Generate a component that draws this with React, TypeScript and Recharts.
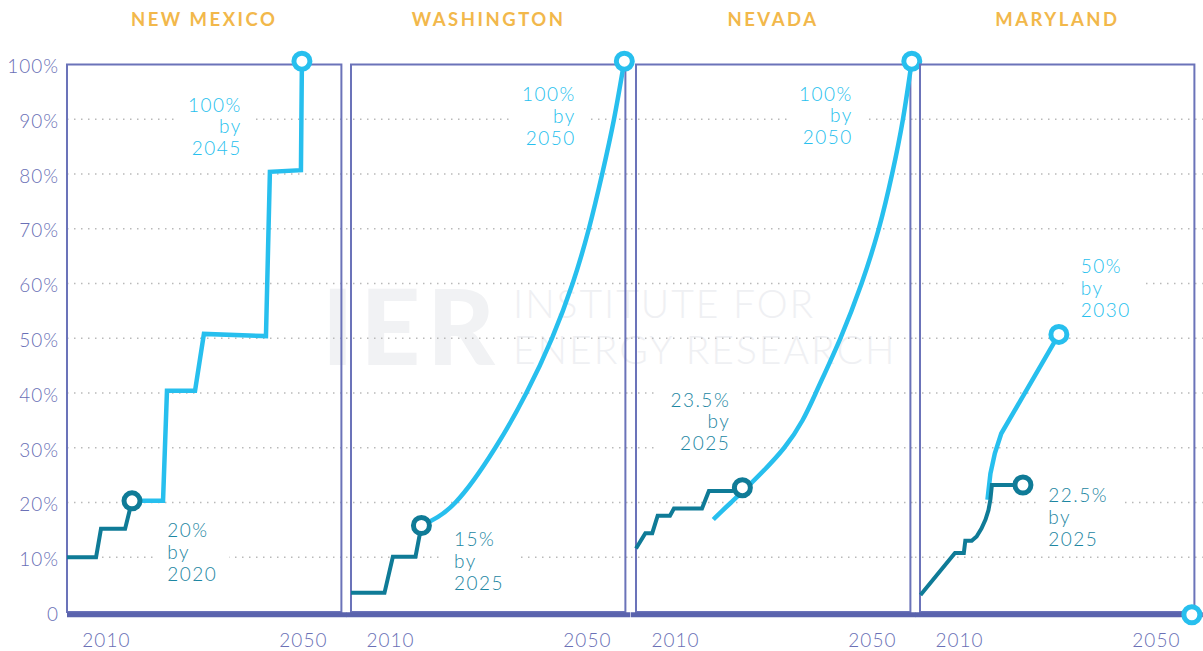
import React from 'react';
import {
  LineChart,
  Line,
  XAxis,
  YAxis,
  CartesianGrid,
  ReferenceArea,
  ReferenceLine,
} from 'recharts';

type Pt = { year: number; pct: number };

const states = ['NEW MEXICO', 'WASHINGTON', 'NEVADA', 'MARYLAND'];
const yTicks = [0, 10, 20, 30, 40, 50, 60, 70, 80, 90, 100];
const gridValues = [10, 20, 30, 40, 50, 60, 70, 80, 90];
const xTicks = [2010, 2050];

// current law (dark) and target path (light)
const nmCurrent: Pt[] = [
  { year: 2002, pct: 10.0 },
  { year: 2007.9, pct: 10.0 },
  { year: 2008.9, pct: 15.2 },
  { year: 2013.8, pct: 15.2 },
  { year: 2015.2, pct: 20.3 },
];
const nmTarget: Pt[] = [
  { year: 2015.2, pct: 20.3 },
  { year: 2021.5, pct: 20.3 },
  { year: 2022.3, pct: 40.4 },
  { year: 2028.0, pct: 40.4 },
  { year: 2029.8, pct: 50.8 },
  { year: 2042.4, pct: 50.4 },
  { year: 2043.2, pct: 80.4 },
  { year: 2049.5, pct: 80.7 },
  { year: 2049.7, pct: 100.6 },
];

const waCurrent: Pt[] = [
  { year: 2002, pct: 3.5 },
  { year: 2008.8, pct: 3.5 },
  { year: 2010.5, pct: 10.1 },
  { year: 2015.1, pct: 10.1 },
  { year: 2016.3, pct: 15.8 },
];
const waTarget: Pt[] = [
  { year: 2016.3, pct: 15.8 },
  { year: 2023.2, pct: 20 },
  { year: 2031.3, pct: 30 },
  { year: 2037.6, pct: 40 },
  { year: 2042.8, pct: 50 },
  { year: 2047.0, pct: 60 },
  { year: 2050.3, pct: 70 },
  { year: 2053.0, pct: 80 },
  { year: 2055.4, pct: 90 },
  { year: 2057.5, pct: 100.6 },
];

const nvCurrent: Pt[] = [
  { year: 2002, pct: 11.6 },
  { year: 2003.9, pct: 14.4 },
  { year: 2005.3, pct: 14.4 },
  { year: 2006.4, pct: 17.6 },
  { year: 2008.9, pct: 17.6 },
  { year: 2009.7, pct: 18.9 },
  { year: 2015.4, pct: 18.9 },
  { year: 2016.8, pct: 22.1 },
  { year: 2021.5, pct: 22.1 },
  { year: 2023.6, pct: 22.7 },
];
const nvTarget: Pt[] = [
  { year: 2017.7, pct: 16.9 },
  { year: 2021.3, pct: 20 },
  { year: 2032.1, pct: 30 },
  { year: 2038.5, pct: 40 },
  { year: 2043.5, pct: 50 },
  { year: 2047.8, pct: 60 },
  { year: 2051.3, pct: 70 },
  { year: 2054.0, pct: 80 },
  { year: 2056.2, pct: 90 },
  { year: 2058.0, pct: 100.6 },
];

const mdCurrent: Pt[] = [
  { year: 2002.1, pct: 3.1 },
  { year: 2009.1, pct: 10.8 },
  { year: 2010.9, pct: 10.8 },
  { year: 2011.2, pct: 13.0 },
  { year: 2012.5, pct: 13.0 },
  { year: 2013.5, pct: 13.8 },
  { year: 2014.5, pct: 15.3 },
  { year: 2015.3, pct: 16.9 },
  { year: 2015.9, pct: 18.6 },
  { year: 2016.3, pct: 20.6 },
  { year: 2016.6, pct: 23.2 },
  { year: 2022.9, pct: 23.2 },
];
const mdTarget: Pt[] = [
  { year: 2015.7, pct: 20.5 },
  { year: 2016.3, pct: 25.3 },
  { year: 2017.2, pct: 29.0 },
  { year: 2018.5, pct: 32.6 },
  { year: 2030.2, pct: 50.7 },
];
const mdExtraMarker: Pt[] = [{ year: 2057.2, pct: -0.5 }];

const nmLabels = { target: ['100%', 'by', '2045'], current: ['20%', 'by', '2020'] };
const waLabels = { target: ['100%', 'by', '2050'], current: ['15%', 'by', '2025'] };
const nvLabels = { target: ['100%', 'by', '2050'], current: ['23.5%', 'by', '2025'] };
const mdLabels = { target: ['50%', 'by', '2030'], current: ['22.5%', 'by', '2025'] };

// layout
const W = 1203;
const H = 651;
const PX_PER_YEAR = 4.925;
const BOX_START = 2002;
const BOX_W = 274.4;
const PANEL_STEP = 284.4;
const FIRST_BOX_LEFT = 67;
const GAP_HALF = 5;
const PLOT_TOP = 53.55;
const PLOT_BOTTOM = 617.5;
const Y_DOMAIN = [-1, 102];

const LIGHT = '#27bfee';
const DARK = '#0f7b97';
const DARK_TEXT = '#1c86a2';
const AXIS_TEXT = '#6a70b6';
const BOX = '#6b73b9';
const BASE = '#5a63ad';
const FONT = 'Lato, "Open Sans", sans-serif';

type PanelProps = {
  index: number;
  current: Pt[];
  target: Pt[];
  curve: 'linear' | 'natural';
  extra?: Pt[];
};

function Panel({ index, current, target, curve, extra = [] }: PanelProps) {
  const boxLeft = FIRST_BOX_LEFT + index * PANEL_STEP;
  const isFirst = index === 0;
  const isLast = index === states.length - 1;
  const plotLeft = isFirst ? boxLeft : boxLeft - GAP_HALF;
  const plotRight = isLast ? W : boxLeft + PANEL_STEP - GAP_HALF;
  const chartLeft = isFirst ? 0 : plotLeft;
  const domain = [
    BOX_START - (boxLeft - plotLeft) / PX_PER_YEAR,
    BOX_START + (plotRight - boxLeft) / PX_PER_YEAR,
  ];
  const boxEnd = BOX_START + BOX_W / PX_PER_YEAR;
  const markerDot = (color: string) => ({
    r: 8,
    fill: '#fff',
    stroke: color,
    strokeWidth: 5,
  });

  return (
    <div style={{ position: 'absolute', left: chartLeft, top: 0 }}>
      <LineChart
        width={plotRight - chartLeft}
        height={H}
        margin={{ top: PLOT_TOP, right: 0, bottom: 0, left: 0 }}
      >
        <CartesianGrid
          vertical={false}
          horizontalValues={gridValues}
          stroke="#b9b9b9"
          strokeWidth={1.5}
          strokeDasharray="1.5 5.5"
        />
        <XAxis
          type="number"
          dataKey="year"
          domain={domain}
          ticks={xTicks}
          interval={0}
          height={H - PLOT_BOTTOM}
          axisLine={false}
          tickLine={false}
          tickSize={0}
          tickMargin={16}
          tick={{ fill: AXIS_TEXT, fontSize: 19, fontFamily: FONT, fontWeight: 300, letterSpacing: 1 }}
        />
        <YAxis
          type="number"
          dataKey="pct"
          domain={Y_DOMAIN}
          ticks={yTicks}
          interval={0}
          hide={!isFirst}
          width={isFirst ? boxLeft : 0}
          axisLine={false}
          tickLine={false}
          tickSize={0}
          tickMargin={8}
          tickFormatter={(v: number) => (v === 0 ? '0' : `${v}%`)}
          tick={{ fill: AXIS_TEXT, fontSize: 19, fontFamily: FONT, fontWeight: 300, letterSpacing: 1, dy: 2 }}
        />
        <ReferenceArea
          x1={BOX_START}
          x2={boxEnd}
          y1={0}
          y2={100}
          fill="none"
          stroke={BOX}
          strokeWidth={2}
          ifOverflow="visible"
        />
        <ReferenceLine y={-0.5} stroke={BASE} strokeWidth={5} ifOverflow="visible" />
        <Line
          data={target}
          dataKey="pct"
          type={curve}
          stroke={LIGHT}
          strokeWidth={4.5}
          dot={false}
          isAnimationActive={false}
        />
        <Line
          data={current}
          dataKey="pct"
          type="linear"
          stroke={DARK}
          strokeWidth={4}
          dot={false}
          isAnimationActive={false}
        />
        <Line
          data={[current[current.length - 1]]}
          dataKey="pct"
          stroke="none"
          dot={markerDot(DARK)}
          isAnimationActive={false}
        />
        <Line
          data={[target[target.length - 1], ...extra]}
          dataKey="pct"
          stroke="none"
          dot={markerDot(LIGHT)}
          isAnimationActive={false}
        />
      </LineChart>
    </div>
  );
}

type Note = {
  lines: string[];
  x: number;
  capTop: number;
  align: 'left' | 'right';
  color: string;
};

const LS = 1.5;
const NOTE_PAD = 12;

function Annotation({ lines, x, capTop, align, color }: Note) {
  const pos: React.CSSProperties =
    align === 'left' ? { left: x - NOTE_PAD } : { right: W - x - NOTE_PAD + LS };
  return (
    <div
      style={{
        position: 'absolute',
        top: capTop - 4.6 - 4,
        ...pos,
        padding: `4px ${NOTE_PAD}px`,
        background: '#fff',
        color,
        textAlign: align,
        fontFamily: FONT,
        fontWeight: 300,
        fontSize: 19,
        lineHeight: '21.7px',
        letterSpacing: LS,
        whiteSpace: 'nowrap',
      }}
    >
      {lines.map((l, i) => (
        <div key={i}>{l}</div>
      ))}
    </div>
  );
}

const notes: Note[] = [
  { lines: nmLabels.target, x: 243.3, capTop: 98.3, align: 'right', color: LIGHT },
  { lines: nmLabels.current, x: 167.3, capTop: 524, align: 'left', color: DARK_TEXT },
  { lines: waLabels.target, x: 577.3, capTop: 87.7, align: 'right', color: LIGHT },
  { lines: waLabels.current, x: 454, capTop: 532.7, align: 'left', color: DARK_TEXT },
  { lines: nvLabels.target, x: 854.3, capTop: 87.3, align: 'right', color: LIGHT },
  { lines: nvLabels.current, x: 731.7, capTop: 393.3, align: 'right', color: DARK_TEXT },
  { lines: mdLabels.target, x: 1080.7, capTop: 260, align: 'left', color: LIGHT },
  { lines: mdLabels.current, x: 1048.3, capTop: 489, align: 'left', color: DARK_TEXT },
];

export default function App() {
  return (
    <div
      style={{
        position: 'absolute',
        left: 0,
        top: 0,
        width: W,
        height: H,
        background: '#fff',
        overflow: 'hidden',
      }}
    >
      <style>{'.recharts-surface{overflow:visible}'}</style>

      {/* watermark */}
      <div
        style={{
          position: 'absolute',
          left: 322,
          top: 265,
          fontFamily: FONT,
          fontWeight: 900,
          fontSize: 104,
          lineHeight: '120px',
          letterSpacing: 7,
          color: '#f1f2f4',
        }}
      >
        IER
      </div>
      <div
        style={{
          position: 'absolute',
          left: 513,
          top: 280,
          fontFamily: FONT,
          fontWeight: 300,
          fontSize: 39,
          lineHeight: '46px',
          letterSpacing: 2,
          color: '#eff0f3',
          whiteSpace: 'nowrap',
        }}
      >
        <div>INSTITUTE FOR</div>
        <div>ENERGY RESEARCH</div>
      </div>

      <Panel index={0} current={nmCurrent} target={nmTarget} curve="linear" />
      <Panel index={1} current={waCurrent} target={waTarget} curve="natural" />
      <Panel index={2} current={nvCurrent} target={nvTarget} curve="natural" />
      <Panel index={3} current={mdCurrent} target={mdTarget} curve="linear" extra={mdExtraMarker} />

      {states.map((s, i) => (
        <div
          key={s}
          style={{
            position: 'absolute',
            left: FIRST_BOX_LEFT + i * PANEL_STEP,
            width: BOX_W,
            top: 9.6,
            textAlign: 'center',
            fontFamily: FONT,
            fontWeight: 700,
            fontSize: 18.5,
            lineHeight: '18.5px',
            letterSpacing: 2.5,
            color: '#f2b84b',
          }}
        >
          {s}
        </div>
      ))}

      {notes.map((n, i) => (
        <Annotation key={i} {...n} />
      ))}
    </div>
  );
}
